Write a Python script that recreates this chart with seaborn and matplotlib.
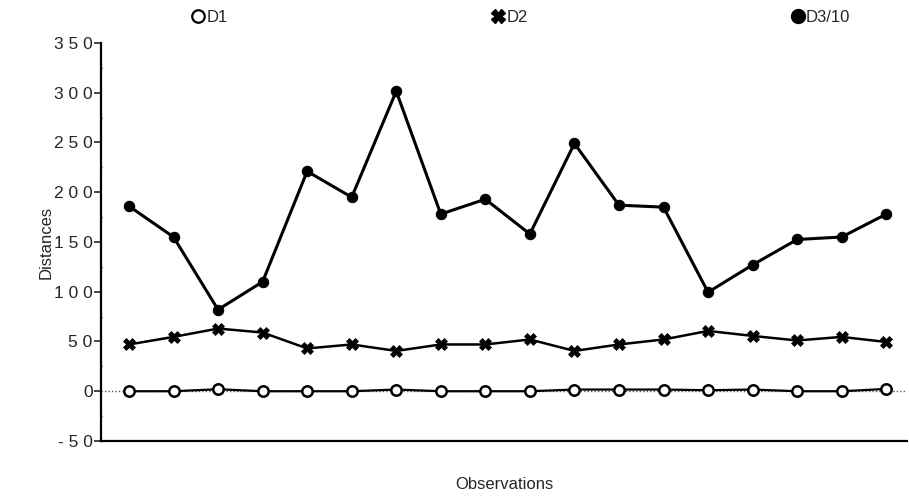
import matplotlib
matplotlib.use("Agg")
import matplotlib.pyplot as plt
import seaborn as sns
import pandas as pd
import numpy as np
from matplotlib.lines import Line2D
from matplotlib.ticker import MultipleLocator

observations = list(range(1, 19))
d1 = [0, 0, 2, 0, 0, 0, 1.7, 0, 0, 0, 1.7, 1.7, 1.7, 1, 1.7, 0, 0, 2.3]
d2 = [47, 54.6, 63, 59, 43, 47, 40.5, 47, 47, 52, 40.5, 47, 52, 60.6, 55.6, 51, 54.6, 49.5]
d3_10 = [186, 155, 82, 110, 221, 195, 301.5, 178, 193, 158, 249, 187, 185, 99.5, 127, 152.5, 155, 178]
series_names = ["D1", "D2", "D3/10"]
y_ticks = [-50, 0, 50, 100, 150, 200, 250, 300, 350]

sns.set_style("ticks")
plt.rcParams['font.family'] = ['Liberation Sans', 'DejaVu Sans']

df = pd.DataFrame({
    "obs": observations * 3,
    "value": d1 + d2 + d3_10,
    "series": [series_names[0]] * 18 + [series_names[1]] * 18 + [series_names[2]] * 18,
})

fig = plt.figure(figsize=(9.09, 4.98), dpi=100)
ax = fig.add_axes([0.111, 0.1145, 0.887, 0.7992])

ax.axhline(0, color="#555555", lw=1.0, ls=(0, (1, 1.5)), zorder=1)

styles = {
    "D1": dict(marker="o", markersize=7.5, markerfacecolor="white", markeredgecolor="black",
               markeredgewidth=1.8, lw=1.6),
    "D2": dict(marker="X", markersize=9, markerfacecolor="black", markeredgecolor="black",
               markeredgewidth=0.5, lw=1.8),
    "D3/10": dict(marker="o", markersize=7.5, markerfacecolor="black", markeredgecolor="black",
                  lw=2.2),
}
for name in series_names:
    sub = df[df["series"] == name]
    sns.lineplot(data=sub, x="obs", y="value", ax=ax, color="black", zorder=3,
                 legend=False, **styles[name])

ax.set_xlim(0.37, 18.47)
ax.set_ylim(-50, 350)
ax.set_yticks(y_ticks)
ax.set_yticklabels([" ".join(str(t)) if t >= 0 else "- " + " ".join(str(-t)) for t in y_ticks],
                   fontsize=12.5)
ax.yaxis.set_minor_locator(MultipleLocator(25))
ax.tick_params(axis="y", which="major", length=5, width=1.2, direction="out", pad=1)
ax.tick_params(axis="y", which="minor", length=2, width=1.0, direction="inout")
ax.set_xticks([])
ax.set_xlabel("Observations", fontsize=12, labelpad=26)
ax.set_ylabel("Distances", fontsize=12, labelpad=0)
for s in ["top", "right"]:
    ax.spines[s].set_visible(False)
for s in ["left", "bottom"]:
    ax.spines[s].set_linewidth(1.6)
    ax.spines[s].set_color("black")

handles = [
    Line2D([], [], ls="none", marker="o", markersize=9, markerfacecolor="white",
           markeredgecolor="black", markeredgewidth=1.6),
    Line2D([], [], ls="none", marker="X", markersize=10, color="black"),
    Line2D([], [], ls="none", marker="o", markersize=10, color="black"),
]
fig.legend(handles, series_names, loc="upper left", bbox_to_anchor=(0.2, 1.0),
           ncol=3, frameon=False, fontsize=12, handlelength=0.8, handletextpad=0.1,
           columnspacing=15.8, borderaxespad=0.2)

fig.savefig("out.png", dpi=100)
